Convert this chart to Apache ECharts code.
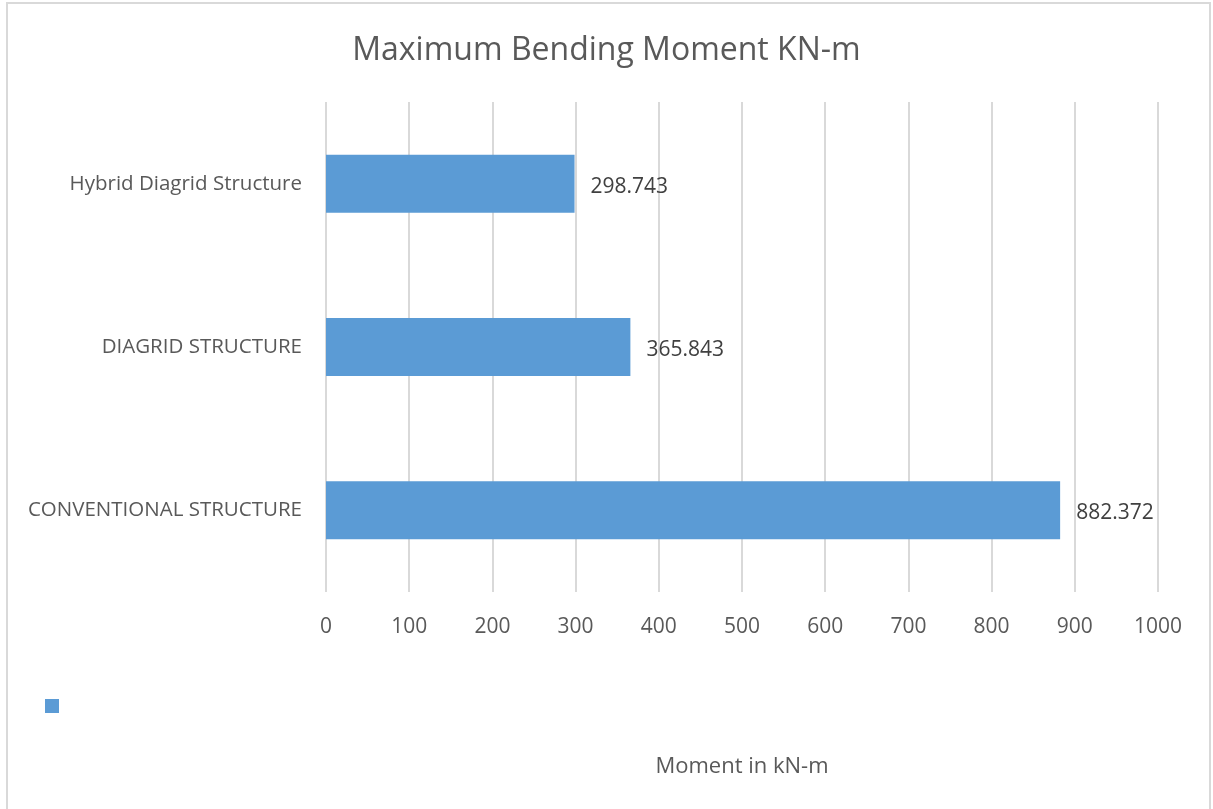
<!DOCTYPE html>
<html>
<head>
<meta charset="utf-8">
<script src="https://cdn.jsdelivr.net/npm/echarts@6/dist/echarts.min.js"></script>
<style>
  html, body { margin: 0; padding: 0; background: #fff; }
  #chart { width: 1213px; height: 809px; }
</style>
</head>
<body>
<div id="chart"></div>
<script>
// Structure types (bottom to top on the category axis)
const categories = ['CONVENTIONAL STRUCTURE', 'DIAGRID STRUCTURE', 'Hybrid Diagrid Structure'];
// Maximum bending moment for each structure, kN-m
const momentValues = [882.372, 365.843, 298.743];
// Value axis range
const axisMin = 0;
const axisMax = 1000;
const axisStep = 100;

const font = '"Open Sans", "Liberation Sans", sans-serif';
const chart = echarts.init(document.getElementById('chart'), null, { renderer: 'canvas' });

chart.setOption({
  backgroundColor: '#ffffff',
  animation: false,
  title: {
    text: 'Maximum Bending Moment KN-m',
    left: 'center',
    top: 30,
    textStyle: { fontFamily: font, fontSize: 32, fontWeight: 'normal', color: '#595959' }
  },
  legend: {
    left: 45,
    top: 698,
    padding: 0,
    itemWidth: 14,
    itemHeight: 14,
    icon: 'rect',
    textStyle: { fontFamily: font, fontSize: 16, color: '#595959' },
    data: [' ']
  },
  grid: { left: 326, right: 55, top: 102, bottom: 217, containLabel: false },
  xAxis: {
    type: 'value',
    min: axisMin,
    max: axisMax,
    interval: axisStep,
    name: 'Moment in kN-m',
    nameLocation: 'middle',
    nameGap: 164,
    nameTextStyle: { fontFamily: font, fontSize: 22, color: '#595959' },
    axisLine: { show: false },
    axisTick: { show: false },
    axisLabel: { fontFamily: font, fontSize: 21, color: '#595959', margin: 25, formatter: v => String(v) },
    splitLine: { show: true, lineStyle: { color: '#d9d9d9', width: 2 } }
  },
  yAxis: {
    type: 'category',
    data: categories,
    axisLine: { show: false },
    axisTick: { show: false },
    axisLabel: { fontFamily: font, fontSize: 20.5, color: '#595959', margin: 24, padding: [6, 0, 0, 0] }
  },
  series: [{
    name: ' ',
    type: 'bar',
    data: momentValues,
    barWidth: 58,
    itemStyle: { color: '#5b9bd5' },
    label: {
      show: true,
      position: 'right',
      distance: 16,
      offset: [0, 3],
      fontFamily: font,
      fontSize: 21,
      color: '#404040',
      formatter: p => p.value.toFixed(3)
    }
  }],
  graphic: [{
    type: 'rect',
    shape: { x: 7, y: 3, width: 1203, height: 812 },
    style: { fill: 'none', stroke: '#d9d9d9', lineWidth: 2 },
    silent: true
  }]
});
</script>
</body>
</html>
